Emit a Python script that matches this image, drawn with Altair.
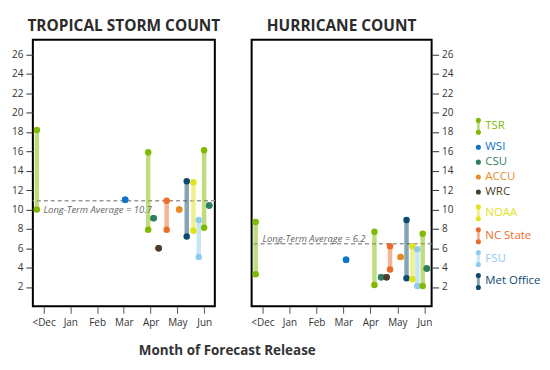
import json
import altair as alt
import pandas as pd

# ---------------- data ----------------
MONTHS = ["<Dec", "Jan", "Feb", "Mar", "Apr", "May", "Jun"]
NAMES = ["TSR", "WSI", "CSU", "ACCU", "WRC", "NOAA", "NC State", "FSU", "Met Office"]
COLORS = ["#7fba00", "#0a75c9", "#2e7f5e", "#e98b22", "#4b3d2a",
          "#dfe31c", "#ec6b2a", "#8ecbef", "#0c4a6e"]
LEGEND_DOTS = [2, 1, 1, 1, 1, 2, 2, 2, 2]

# Tropical storm count forecasts (month index: 0 = <Dec ... 6 = Jun)
TS_NAME = ["TSR", "WSI", "TSR", "CSU", "WRC", "NC State", "ACCU",
           "Met Office", "NOAA", "FSU", "TSR", "CSU"]
TS_MONTH = [-0.25, 3.05, 3.91, 4.11, 4.30, 4.60, 5.07, 5.35, 5.60, 5.80, 6.00, 6.19]
TS_HIGH = [18.2, 11.0, 15.9, 9.1, 6.0, 10.9, 10.0, 12.9, 12.8, 8.9, 16.1, 10.4]
TS_LOW = [10.0, 11.0, 7.9, 9.1, 6.0, 7.9, 10.0, 7.2, 7.8, 5.1, 8.1, 10.4]
TS_AVG = 10.9
TS_AVG_TEXT = "Long-Term Average = 10.7"

# Hurricane count forecasts
HU_NAME = ["TSR", "WSI", "TSR", "CSU", "WRC", "NC State", "ACCU",
           "Met Office", "NOAA", "FSU", "TSR", "CSU"]
HU_MONTH = [-0.25, 3.10, 4.15, 4.40, 4.60, 4.73, 5.12, 5.34, 5.56, 5.74, 5.94, 6.09]
HU_HIGH = [8.7, 4.8, 7.7, 3.0, 3.0, 6.2, 5.1, 8.9, 6.2, 5.9, 7.5, 3.9]
HU_LOW = [3.3, 4.8, 2.2, 3.0, 3.0, 3.8, 5.1, 2.9, 2.8, 2.1, 2.1, 3.9]
HU_AVG = 6.45
HU_AVG_TEXT = "Long-Term Average = 6.2"

Y_TICKS = list(range(2, 27, 2))

# ---------------- style ----------------
FONT = "Open Sans"
TEXT = "#333333"
PLOT_H = 268
color_scale = alt.Scale(domain=NAMES, range=COLORS)
month_expr = json.dumps(MONTHS) + "[datum.value]"


def panel(names, months, highs, lows, avg, avg_text, avg_dy, title,
          width, x_max, y_orient, x_title):
    df = pd.DataFrame({"name": names, "month": months, "high": highs, "low": lows})
    ranges = df[df["high"] != df["low"]]
    dots = pd.concat([
        df[["name", "month", "high"]].rename(columns={"high": "value"}),
        df[["name", "month", "low"]].rename(columns={"low": "value"}),
    ])
    avg_df = pd.DataFrame({"value": [avg], "month": [0], "label": [avg_text]})

    x_axis_kw = dict(values=list(range(len(MONTHS))), labelExpr=month_expr,
                     tickSize=7, labelPadding=4, domain=False, grid=False,
                     labelFontSize=10, labelColor=TEXT, tickColor="#555")
    if x_title:
        x_axis_kw.update(title=x_title, titleX=195, titleY=48, titleAlign="center",
                         titleBaseline="alphabetic", titleFontSize=13.5,
                         titleFontWeight="bold", titleColor=TEXT)
    else:
        x_axis_kw.update(title=None)
    xs = alt.Scale(domain=[-0.4, x_max], nice=False, zero=False)
    ys = alt.Scale(domain=[0, 27.5], nice=False, zero=False)
    xax = alt.Axis(**x_axis_kw)
    yax = alt.Axis(orient=y_orient, values=Y_TICKS, tickSize=7, labelPadding=3,
                   domain=False, grid=False, title=None, labelFontSize=10,
                   labelColor=TEXT, tickColor="#333")
    col = alt.Color("name:N", scale=color_scale, legend=None)

    avg_rule = alt.Chart(avg_df).mark_rule(
        color="#999999", strokeDash=[4, 3], strokeWidth=1.5
    ).encode(y=alt.Y("value:Q", scale=ys, axis=yax))

    avg_label = alt.Chart(avg_df).mark_text(
        align="left", baseline="middle", dy=avg_dy, fontSize=9.5,
        fontStyle="italic", color="#666666", font=FONT
    ).encode(x=alt.X("month:Q", scale=xs, axis=xax),
             y=alt.Y("value:Q", scale=ys, axis=yax), text="label:N")

    bars = alt.Chart(ranges).mark_rule(strokeWidth=4.5, opacity=0.5).encode(
        x=alt.X("month:Q", scale=xs, axis=xax),
        y=alt.Y("high:Q", scale=ys, axis=yax), y2="low:Q", color=col)

    pts = alt.Chart(dots).mark_circle(size=42, opacity=1).encode(
        x=alt.X("month:Q", scale=xs, axis=xax),
        y=alt.Y("value:Q", scale=ys, axis=yax), color=col)

    return alt.layer(avg_rule, bars, pts, avg_label).properties(
        width=width, height=PLOT_H, title=title)


left = panel(TS_NAME, TS_MONTH, TS_HIGH, TS_LOW, TS_AVG, TS_AVG_TEXT, 9,
             "TROPICAL STORM COUNT", 183, 6.4, "left", "Month of Forecast Release")
right = panel(HU_NAME, HU_MONTH, HU_HIGH, HU_LOW, HU_AVG, HU_AVG_TEXT, -5,
              "HURRICANE COUNT", 181, 6.27, "right", None)

# ---------------- custom legend ----------------
LEGEND_TOP = 87      # centre of first entry, px below plot top
PAIR_HALF = 6
centers = []
for i, n in enumerate(LEGEND_DOTS):
    if i == 0:
        centers.append(LEGEND_TOP)
        continue
    prev = LEGEND_DOTS[i - 1]
    gap = 11 if (prev == 2 and n == 2) else 15
    step = (PAIR_HALF if prev == 2 else 0) + gap + (PAIR_HALF if n == 2 else 0)
    centers.append(centers[-1] + step)

leg = pd.DataFrame({"name": NAMES, "y": centers, "n": LEGEND_DOTS})
leg["y1"] = leg["y"] - PAIR_HALF * (leg["n"] - 1)
leg["y2"] = leg["y"] + PAIR_HALF * (leg["n"] - 1)
leg_dots = pd.concat([
    leg[["name", "y1"]].rename(columns={"y1": "yy"}),
    leg[leg["n"] == 2][["name", "y2"]].rename(columns={"y2": "yy"}),
])
lys = alt.Scale(domain=[0, PLOT_H], reverse=True, nice=False, zero=False)
lcol = alt.Color("name:N", scale=color_scale, legend=None)

leg_bars = alt.Chart(leg[leg["n"] == 2]).mark_rule(strokeWidth=3, opacity=0.5).encode(
    x=alt.value(10), y=alt.Y("y1:Q", scale=lys, axis=None), y2="y2:Q", color=lcol)
leg_pts = alt.Chart(leg_dots).mark_circle(size=26, opacity=1).encode(
    x=alt.value(10), y=alt.Y("yy:Q", scale=lys, axis=None), color=lcol)
leg_txt = alt.Chart(leg).mark_text(align="left", baseline="middle", fontSize=11.5,
                                   font=FONT).encode(
    x=alt.value(17), y=alt.Y("y:Q", scale=lys, axis=None), text="name:N", color=lcol)

legend = alt.layer(leg_bars, leg_pts, leg_txt).properties(
    width=60, height=PLOT_H, view=alt.ViewBackground(stroke="transparent"))

chart = alt.hconcat(left, right, legend, spacing=37, bounds="flush").properties(
    padding={"left": 2, "top": 9, "right": 0, "bottom": 5}
).configure_view(stroke="black", strokeWidth=2).configure_axis(
    labelFont=FONT, titleFont=FONT
).configure_title(
    font=FONT, fontSize=15.5, fontWeight="bold", color="#2b2b2b",
    anchor="middle", offset=5
).configure_text(font=FONT)

chart.save("out.html", embed_options={"renderer": "svg", "actions": False})
